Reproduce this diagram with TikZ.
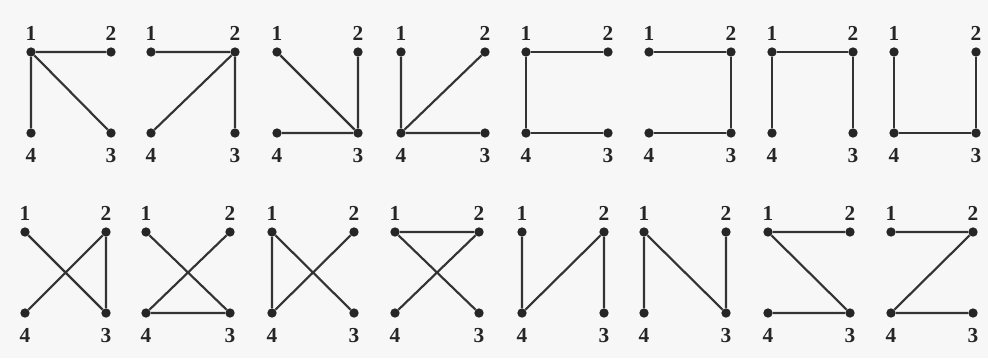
\documentclass[tikz,border=0pt]{standalone}
\usepackage{fontspec}
\setmainfont{Liberation Serif}

\tikzset{
  vtx/.style={circle,fill=black!85,inner sep=0pt,minimum size=7pt},
  num/.style={font=\fontsize{16}{18}\selectfont\bfseries,text=black!85,inner sep=0pt},
  edge/.style={draw=black!80,line width=1.6pt},
}

% four corners of one tree: 1 2 on top, 4 3 below
\newcommand{\corners}[4]{%
  \node[vtx,label={[num,label distance=4.4pt]above:1}] (#1-1) at (#2,#3) {};
  \node[vtx,label={[num,label distance=4.4pt]above:2}] (#1-2) at (#2+#4,#3) {};
  \node[vtx,label={[num,label distance=7.6pt]below:3}] (#1-3) at (#2+#4,#3+81) {};
  \node[vtx,label={[num,label distance=7.6pt]below:4}] (#1-4) at (#2,#3+81) {};
}

\begin{document}
\begin{tikzpicture}[x=0.75pt,y=-0.75pt]
    % page
    \fill[black!3] (0,0) rectangle (988,358);

    % Top row
    \corners{a}{31}{52}{80}
    \draw[edge] (a-1) -- (a-2) (a-1) -- (a-4) (a-1) -- (a-3);
    \corners{b}{151}{52}{84}
    \draw[edge] (b-1) -- (b-2) (b-2) -- (b-4) (b-2) -- (b-3);
    \corners{c}{277}{52}{81}
    \draw[edge] (c-1) -- (c-3) (c-2) -- (c-3) (c-4) -- (c-3);
    \corners{d}{401}{52}{84}
    \draw[edge] (d-1) -- (d-4) (d-2) -- (d-4) (d-4) -- (d-3);
    \corners{e}{526}{52}{82}
    \draw[edge] (e-1) -- (e-2) (e-1) -- (e-4) (e-4) -- (e-3);
    \corners{f}{649}{52}{82}
    \draw[edge] (f-1) -- (f-2) (f-2) -- (f-3) (f-4) -- (f-3);
    \corners{g}{772}{52}{81}
    \draw[edge] (g-1) -- (g-4) (g-1) -- (g-2) (g-2) -- (g-3);
    \corners{h}{894}{52}{82}
    \draw[edge] (h-1) -- (h-4) (h-4) -- (h-3) (h-2) -- (h-3);

    % Bottom row
    \corners{i}{25}{232}{81}
    \draw[edge] (i-1) -- (i-3) (i-2) -- (i-4) (i-2) -- (i-3);
    \corners{j}{146}{232}{84}
    \draw[edge] (j-1) -- (j-3) (j-2) -- (j-4) (j-4) -- (j-3);
    \corners{k}{272}{232}{82}
    \draw[edge] (k-1) -- (k-4) (k-1) -- (k-3) (k-2) -- (k-4);
    \corners{l}{395}{232}{84}
    \draw[edge] (l-1) -- (l-2) (l-1) -- (l-3) (l-2) -- (l-4);
    \corners{m}{522}{232}{82}
    \draw[edge] (m-1) -- (m-4) (m-4) -- (m-2) (m-2) -- (m-3);
    \corners{n}{644}{232}{82}
    \draw[edge] (n-1) -- (n-4) (n-1) -- (n-3) (n-2) -- (n-3);
    \corners{o}{768}{232}{82}
    \draw[edge] (o-1) -- (o-2) (o-1) -- (o-3) (o-4) -- (o-3);
    \corners{p}{891}{232}{82}
    \draw[edge] (p-1) -- (p-2) (p-2) -- (p-4) (p-4) -- (p-3);

\end{tikzpicture}
\end{document}
